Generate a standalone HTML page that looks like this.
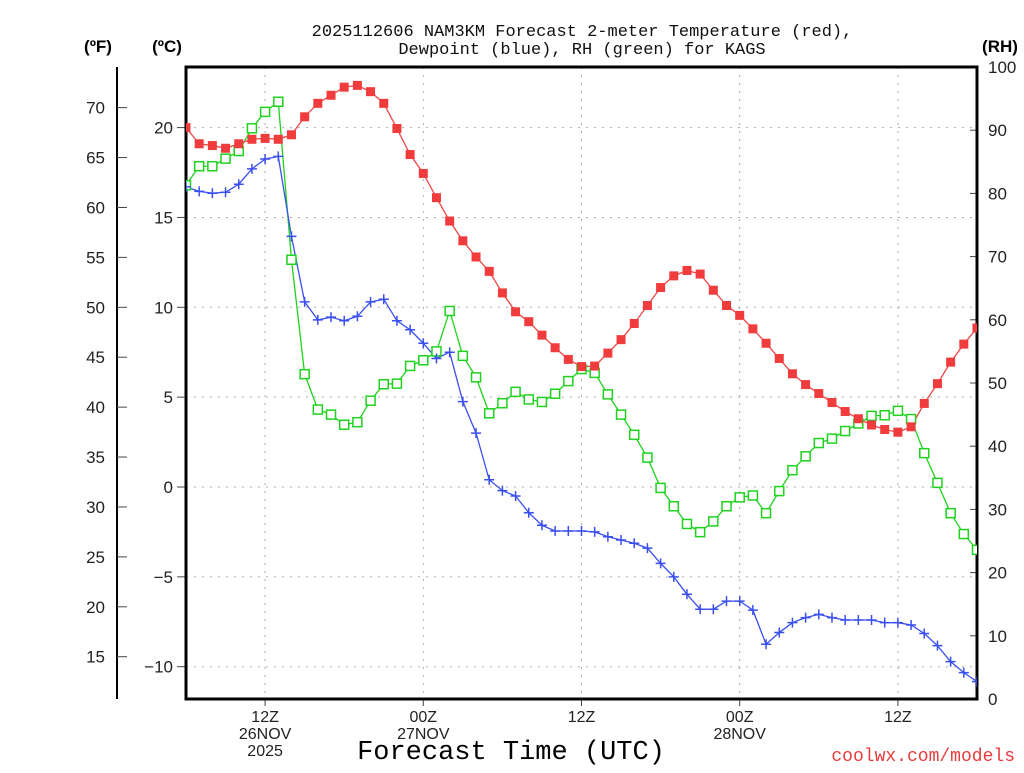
<!DOCTYPE html>
<html><head><meta charset="utf-8"><style>
body{margin:0;background:#fff;}
svg text{font-family:"Liberation Sans",sans-serif;}
</style></head><body>
<svg id="chart" width="1024" height="768" xmlns="http://www.w3.org/2000/svg">
<rect width="1024" height="768" fill="#fff"/>
<g font-size="17" text-anchor="middle" fill="#111">
<text x="582" y="36" style="font-family:'Liberation Mono',monospace">2025112606 NAM3KM Forecast 2-meter Temperature (red),</text>
<text x="582" y="54" style="font-family:'Liberation Mono',monospace">Dewpoint (blue), RH (green) for KAGS</text>
</g>
<text x="98" y="52" font-size="17" font-weight="bold" text-anchor="middle">(ºF)</text>
<text x="167" y="52" font-size="17" font-weight="bold" text-anchor="middle">(ºC)</text>
<text x="1000" y="52" font-size="17" font-weight="bold" text-anchor="middle">(RH)</text>
<g id="grid"></g>
<g id="axes"></g>
<g id="series"></g>
<text x="511" y="759" font-size="27" text-anchor="middle" style="font-family:'Liberation Mono',monospace">Forecast Time (UTC)</text>
<text x="1015" y="761" font-size="18" text-anchor="end" fill="#e83c3c" style="font-family:'Liberation Mono',monospace">coolwx.com/models</text>
</svg>
<script>
const hours = Array.from({length:61},(_,i)=>i);
const tempC = [20.0,19.1,19.0,18.85,19.1,19.35,19.4,19.35,19.6,20.6,21.35,21.8,22.25,22.35,22.0,21.35,19.95,18.5,17.45,16.1,14.8,13.7,12.8,12.0,10.8,9.75,9.2,8.45,7.75,7.1,6.7,6.73,7.45,8.2,9.1,10.1,11.1,11.75,12.05,11.85,10.95,10.1,9.55,8.8,8.0,7.15,6.3,5.7,5.2,4.7,4.2,3.8,3.45,3.2,3.05,3.35,4.65,5.75,6.95,7.95,8.85];
const dewC = [16.7,16.45,16.35,16.4,16.85,17.7,18.25,18.4,13.95,10.3,9.3,9.45,9.25,9.5,10.3,10.45,9.25,8.75,8.0,7.15,7.5,4.75,3.0,0.4,-0.2,-0.5,-1.43,-2.13,-2.45,-2.45,-2.45,-2.5,-2.77,-2.95,-3.13,-3.4,-4.25,-5.0,-5.97,-6.8,-6.8,-6.35,-6.35,-6.85,-8.75,-8.1,-7.55,-7.27,-7.09,-7.27,-7.4,-7.4,-7.4,-7.55,-7.55,-7.68,-8.15,-8.83,-9.72,-10.33,-10.83];
const rh = [81.3,84.3,84.3,85.5,86.7,90.3,92.9,94.5,69.5,51.4,45.8,45.0,43.4,43.8,47.2,49.8,49.9,52.7,53.6,55.0,61.4,54.3,50.9,45.2,46.8,48.6,47.4,47.0,48.3,50.3,52.2,51.6,48.2,45.0,41.8,38.2,33.4,30.5,27.7,26.4,28.1,30.5,31.9,32.2,29.4,32.9,36.2,38.4,40.5,41.2,42.4,43.6,44.8,44.9,45.6,44.3,38.9,34.2,29.4,26.1,23.6];
const cTicks = [20,15,10,5,0,-5,-10];
const fTicks = [70,65,60,55,50,45,40,35,30,25,20,15];
const rhTicks = [0,10,20,30,40,50,60,70,80,90,100];
const timeTicks = [6,18,30,42,54];
const timeLabels = [["12Z","26NOV","2025"],["00Z","27NOV"],["12Z"],["00Z","28NOV"],["12Z"]];

const L=186,R=977,T=67,B=699;
const xS=h=>L+(R-L)*h/60;
const yC=c=>487-c*17.97;
const yF=f=>yC((f-32)/1.8);
const yR=v=>B-(B-T)*v/100;
const NS="http://www.w3.org/2000/svg";
function mk(tag,attrs,parent){const e=document.createElementNS(NS,tag);for(const k in attrs)e.setAttribute(k,attrs[k]);parent.appendChild(e);return e;}
const grid=document.getElementById('grid'),axes=document.getElementById('axes'),ser=document.getElementById('series');

cTicks.forEach(c=>{
  const g=mk('line',{x1:L,x2:R,y1:yC(c),y2:yC(c),stroke:'#aaa','stroke-dasharray':'2 6'},grid);
  
  
  const t=mk('line',{x1:L-9,x2:L,y1:yC(c),y2:yC(c),stroke:'#444'},axes);
  
  
  const lb=mk('text',{x:173,y:yC(c)+6,'font-size':17,'text-anchor':'end',fill:'#222'},axes);
  lb.textContent=(c<0?'\u2212'+(-c):c);
  
  
});
timeTicks.forEach((h,i)=>{
  const g=mk('line',{x1:xS(h),x2:xS(h),y1:T,y2:B,stroke:'#aaa','stroke-dasharray':'2 6'},grid);
  
  
  const t=mk('line',{x1:xS(h),x2:xS(h),y1:B,y2:B+7,stroke:'#444'},axes);
  
  
  timeLabels[i].forEach((s,j)=>{
    const lb=mk('text',{x:xS(h),y:722+j*17,'font-size':16,'text-anchor':'middle',fill:'#222'},axes);
    lb.textContent=s;
    
    
  });
});
const fl=mk('line',{x1:117,x2:117,y1:67,y2:699,stroke:'#000','stroke-width':2},axes);


fTicks.forEach(f=>{
  const t=mk('line',{x1:117,x2:127,y1:yF(f),y2:yF(f),stroke:'#444'},axes);
  
  
  const lb=mk('text',{x:105,y:yF(f)+6,'font-size':17,'text-anchor':'end',fill:'#222'},axes);
  lb.textContent=f;
  
  
});
rhTicks.forEach(v=>{
  const t=mk('line',{x1:R-7,x2:R,y1:yR(v),y2:yR(v),stroke:'#444'},axes);
  
  
  const lb=mk('text',{x:988,y:yR(v)+6,'font-size':17,'text-anchor':'start',fill:'#222'},axes);
  lb.textContent=v;
  
  
});
const fr=mk('path',{d:`M${L},${T}H${R}V${B}H${L}Z`,fill:'none',stroke:'#000','stroke-width':3},axes);



function line(vals,yf,color,name){
  const p=mk('polyline',{points:vals.map((v,i)=>xS(hours[i])+','+yf(v)).join(' '),fill:'none',stroke:color,'stroke-width':1.3},ser);
  
  
}
const cp=mk('clipPath',{id:'pc'},ser);mk('rect',{x:L,y:T,width:R-L,height:B-T},cp);
ser.setAttribute('clip-path','url(#pc)');
line(rh,yR,'#1ed21e','rh');
line(dewC,yC,'#3a4ff0','dewpoint');
line(tempC,yC,'#f04545','temperature');
rh.forEach((v,i)=>{
  const m=mk('rect',{x:xS(hours[i])-4.5,y:yR(v)-4.5,width:9,height:9,fill:'#fff',stroke:'#1ed21e','stroke-width':1.5},ser);
  
  
});
dewC.forEach((v,i)=>{
  const x=xS(hours[i]),y=yC(v);
  const m=mk('path',{d:`M${x-5},${y}H${x+5}M${x},${y-5}V${y+5}`,stroke:'#3a4ff0','stroke-width':1.5},ser);
  
  
});
tempC.forEach((v,i)=>{
  const m=mk('rect',{x:xS(hours[i])-4.5,y:yC(v)-4.5,width:9,height:9,fill:'#f03c3c'},ser);
  
  
});
</script>
</body></html>
